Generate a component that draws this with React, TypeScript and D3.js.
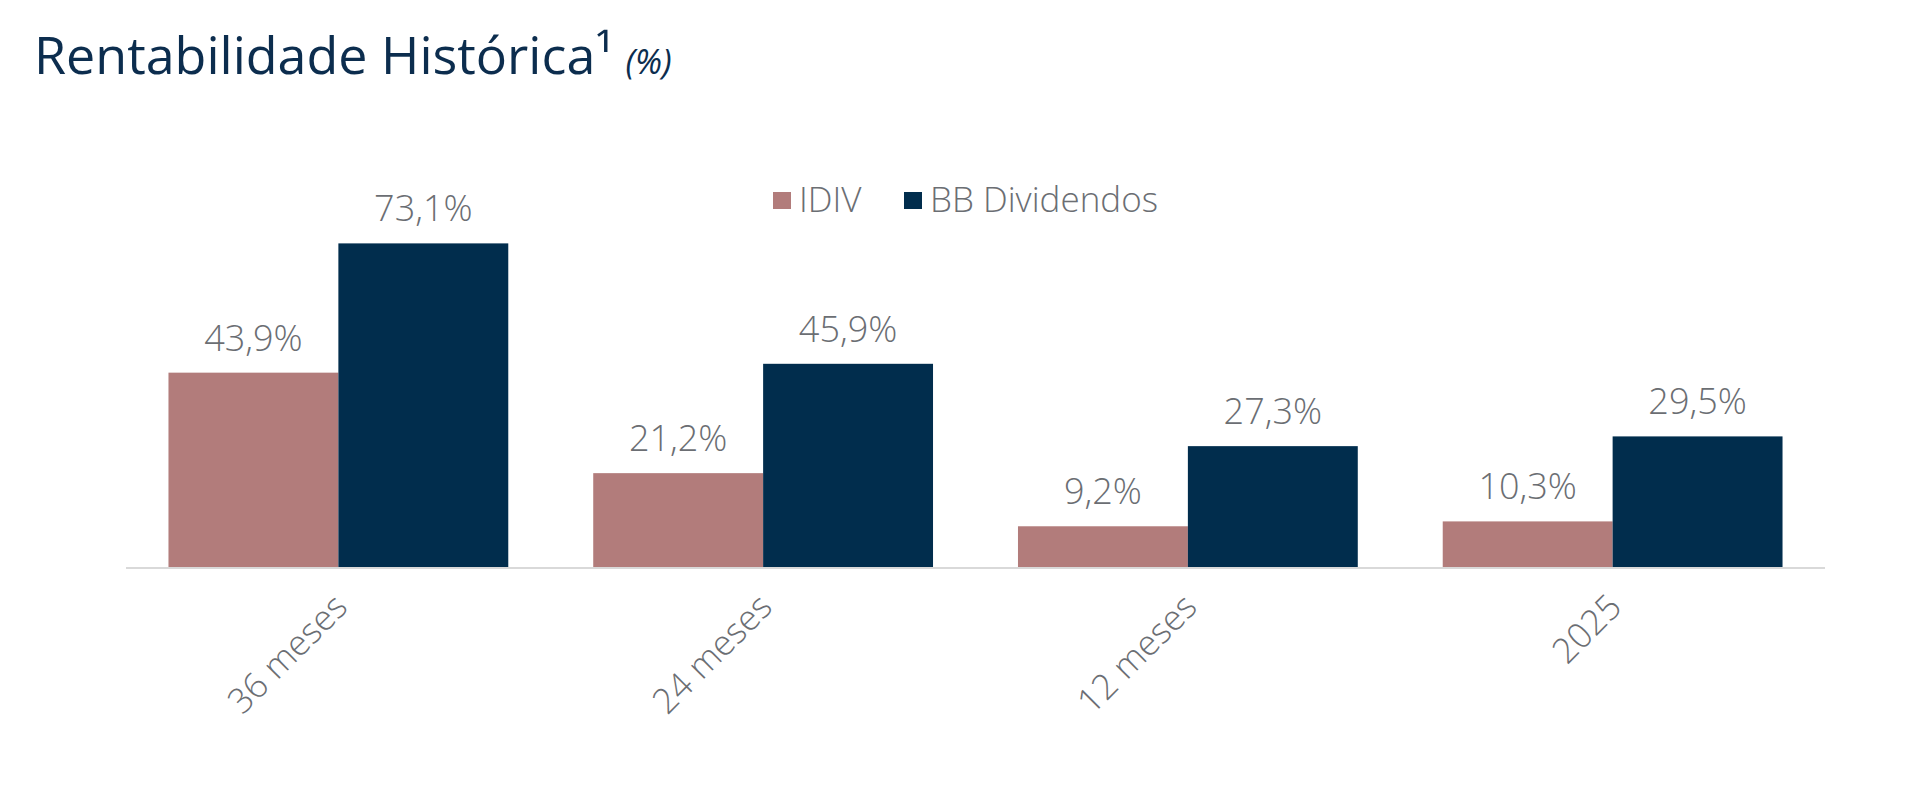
import React, { useEffect, useRef } from 'react';
import * as d3 from 'd3';

const categories = ['36 meses', '24 meses', '12 meses', '2025'];
const seriesNames = ['IDIV', 'BB Dividendos'];
const idivValues = [43.9, 21.2, 9.2, 10.3];
const bbDividendosValues = [73.1, 45.9, 27.3, 29.5];
const seriesColors = ['#b27c7b', '#012d4d'];

const App: React.FC = () => {
  const width = 1920;
  const height = 789;
  const svgRef = useRef<SVGSVGElement>(null);

  useEffect(() => {
    if (!svgRef.current) return;

    const svg = d3.select(svgRef.current);
    svg.selectAll('*').remove();

    const font = '"Open Sans", "Noto Sans", sans-serif';
    const labelColor = '#6b6e73';
    const baseline = 567;

    const values = [idivValues, bbDividendosValues];

    const x = d3.scaleBand<string>()
      .domain(categories)
      .range([126, 1825])
      .padding(0);

    const xInner = d3.scaleBand<string>()
      .domain(seriesNames)
      .range([0, x.bandwidth()])
      .paddingInner(0)
      .paddingOuter(0.25);

    const y = d3.scaleLinear()
      .domain([0, 80])
      .range([baseline, baseline - 80 * 4.427]);

    // title
    const title = svg.append('text')
      .attr('x', 34)
      .attr('y', 74)
      .attr('font-family', font)
      .attr('font-size', 52)
      .attr('fill', '#0c2d4e');
    title.append('tspan').text('Rentabilidade Histórica¹');
    title.append('tspan')
      .attr('dx', 12)
      .attr('font-size', 34)
      .attr('font-style', 'italic')
      .text('(%)');

    // bars
    categories.forEach((cat, ci) => {
      seriesNames.forEach((s, si) => {
        const v = values[si][ci];
        const bx = (x(cat) as number) + (xInner(s) as number);
        svg.append('rect')
          .attr('x', bx)
          .attr('y', y(v))
          .attr('width', xInner.bandwidth())
          .attr('height', y(0) - y(v))
          .attr('fill', seriesColors[si]);

        svg.append('text')
          .attr('x', bx + xInner.bandwidth() / 2)
          .attr('y', y(v) - 22)
          .attr('text-anchor', 'middle')
          .attr('font-family', font)
          .attr('font-weight', 300)
          .attr('font-size', 36)
          .attr('fill', labelColor)
          .text(v.toFixed(1).replace('.', ',') + '%');
      });
    });

    // axis line
    svg.append('line')
      .attr('x1', x.range()[0])
      .attr('x2', x.range()[1])
      .attr('y1', baseline + 1)
      .attr('y2', baseline + 1)
      .attr('stroke', '#d9d9d9')
      .attr('stroke-width', 2);

    // category labels
    categories.forEach((cat) => {
      const cx = (x(cat) as number) + x.bandwidth() / 2;
      svg.append('text')
        .attr('transform', `translate(${cx + 11},${baseline + 42}) rotate(-45)`)
        .attr('text-anchor', 'end')
        .attr('font-family', font)
        .attr('font-weight', 300)
        .attr('font-size', 35)
        .attr('fill', labelColor)
        .text(cat);
    });

    // legend
    const legendX = [773, 904];
    seriesNames.forEach((s, i) => {
      svg.append('rect')
        .attr('x', legendX[i])
        .attr('y', 192)
        .attr('width', 18)
        .attr('height', 17)
        .attr('fill', seriesColors[i]);
      svg.append('text')
        .attr('x', legendX[i] + 26)
        .attr('y', 212)
        .attr('font-family', font)
        .attr('font-weight', 300)
        .attr('font-size', 35)
        .attr('fill', labelColor)
        .text(s);
    });
  }, [height, width]);

  return (
    <svg
      ref={svgRef}
      width={width}
      height={height}
      style={{ position: 'absolute', left: 0, top: 0, background: '#fff' }}
    />
  );
};

export default App;
